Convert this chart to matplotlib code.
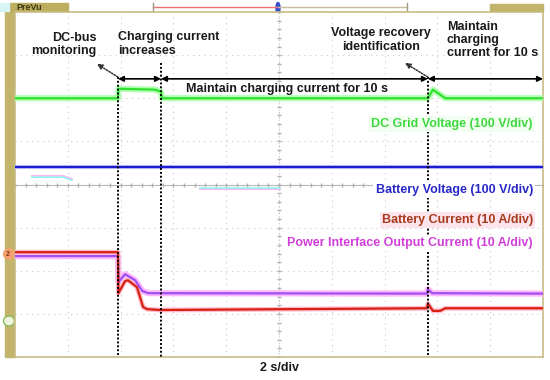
import matplotlib.pyplot as plt
from matplotlib.patches import Rectangle, Ellipse

# time in s (2 s/div, 10 div), levels in screen divisions (8 div)
green_t = [0, 3.90, 3.92, 5.30, 5.53, 5.56, 15.64, 15.83, 16.30, 20]
green_v = [2.0, 2.0, 2.22, 2.20, 2.15, 2.0, 2.0, 2.20, 2.0, 2.0]

blue_t = [0, 20]
blue_v = [0.41, 0.41]

red_t = [0, 3.90, 3.92, 3.98, 4.17, 4.28, 4.62, 4.85, 5.00, 5.49, 15.60, 15.64, 15.83, 16.10, 16.30, 20]
red_v = [-1.57, -1.57, -2.52, -2.45, -2.24, -2.22, -2.38, -2.84, -2.89, -2.91, -2.87, -2.76, -2.93, -2.93, -2.87, -2.87]

mag_t = [0, 3.90, 3.92, 4.17, 4.55, 4.82, 5.05, 15.60, 15.64, 15.80, 20]
mag_v = [-1.66, -1.66, -2.26, -2.08, -2.22, -2.47, -2.52, -2.53, -2.43, -2.52, -2.53]

# faint ghost traces left on the screen
ghost1_t = [0.64, 1.82, 2.16]
ghost1_v = [0.17, 0.17, 0.10]
ghost2_t = [7.0, 10.04]
ghost2_v = [-0.07, -0.07]

markers_t = [3.90, 5.53, 15.64]   # event lines

fig = plt.figure(figsize=(5.5, 3.8), dpi=100)
plt.rcParams['font.family'] = ['Liberation Sans', 'DejaVu Sans']

# background layer in pixel coords
bg = fig.add_axes([0, 0, 1, 1])
bg.set_xlim(0, 550)
bg.set_ylim(380, 0)
bg.axis('off')
olive = '#c2b46a'
bg.add_patch(Rectangle((5, 12), 10, 345, color=olive))
bg.add_patch(Rectangle((10, 3), 58, 8.5, color='#bcae5e'))
bg.text(16, 7.5, 'PreVu', fontsize=6.5, fontweight='bold', color='#3b3a12', va='center')
bg.add_patch(Rectangle((0, 3), 9, 8, color='#d8f4f4'))
bg.plot([153, 278], [7, 7], color='#f07070', lw=1)
bg.plot([278, 407], [7, 7], color='#c8bca0', lw=1)
bg.plot([153, 153], [3, 12], color='#a09880', lw=1)
bg.plot([407, 407], [3, 12], color='#a09880', lw=1)
bg.add_patch(Ellipse((278, 8), 4, 11, color='#3050d0'))
bg.add_patch(Rectangle((490, 4), 53, 8, color=olive))
bg.add_patch(Ellipse((9, 254), 11, 10, color='#f4a070'))
bg.text(8, 254, '2', fontsize=5, fontweight='bold', color='#803010', ha='center', va='center')
bg.add_patch(Ellipse((9, 321), 11, 10, facecolor='#eef4dc', edgecolor='#8cbc5c', lw=1))

ax = fig.add_axes([15 / 550, 1 - 357 / 380, 528 / 550, 345 / 380])
ax.set_xlim(0, 20)
ax.set_ylim(-4, 4)
ax.set_xticks([])
ax.set_yticks([])
for s in ax.spines.values():
    s.set_color('#c8bc84')
    s.set_linewidth(1.2)

# graticule
for gx in range(2, 20, 2):
    ax.axvline(gx, color='#c8c8c8', lw=0.8, ls=(0, (1, 4)), zorder=1)
for gy in range(-3, 4):
    ax.axhline(gy, color='#c8c8c8', lw=0.8, ls=(0, (1, 4)), zorder=1)
ax.axhline(0, color='#b8b8b8', lw=0.8, zorder=1)
ax.axvline(10, color='#c8c8c8', lw=0.8, ls=(0, (1, 2)), zorder=1)
ticks_x = [i * 0.4 for i in range(51)]
ticks_y = [-4 + i * 0.2 for i in range(41)]
ax.plot(ticks_x, [0] * len(ticks_x), ls='none', marker='|', ms=3, color='#b0b0b0', zorder=1)
ax.plot([10] * len(ticks_y), ticks_y, ls='none', marker='_', ms=3, color='#b0b0b0', zorder=1)

# ghost traces
ax.plot(ghost1_t, [v + 0.03 for v in ghost1_v], color='#ffb0f0', lw=1.2, zorder=2)
ax.plot(ghost1_t, ghost1_v, color='#90f4f4', lw=1.2, zorder=2)
ax.plot(ghost2_t, [v - 0.03 for v in ghost2_v], color='#ffa0f0', lw=1.2, zorder=2)
ax.plot(ghost2_t, ghost2_v, color='#90f4f4', lw=1.2, zorder=2)

# traces with phosphor glow
traces = [
    (green_t, green_v, '#30e030', '#b4ffb4', 4.5),
    (blue_t, blue_v, '#1c1cd0', '#c4c4ff', 3),
    (mag_t, mag_v, '#a050f0', '#ffb8ff', 4.5),
    (red_t, red_v, '#d82010', '#ffbccc', 3.5),
]
for t, v, c, glow, gw in traces:
    ax.plot(t, v, color=glow, lw=gw, solid_capstyle='butt', zorder=3)
    ax.plot(t, v, color=c, lw=1.6, zorder=4)

# event lines and arrows
tops = [2.49, 2.82, 2.49]
for x, top in zip(markers_t, tops):
    ax.plot([x, x], [top, -4], color='black', lw=1.4, ls=(0, (1, 1)), zorder=5)

arrow_y = 2.45
spans = [(3.90, 5.53), (5.53, 15.64), (15.64, 20.0)]
for a, b in spans:
    ax.annotate('', xy=(b, arrow_y), xytext=(a, arrow_y),
                arrowprops=dict(arrowstyle='<|-|>', color='black', lw=1.2,
                                mutation_scale=8, shrinkA=0, shrinkB=0), zorder=6)

for (x0, y0), (x1, y1) in [((3.90, 2.49), (3.10, 2.80)), ((15.64, 2.49), (14.77, 2.82))]:
    ax.annotate('', xy=(x1, y1), xytext=(x0, y0),
                arrowprops=dict(arrowstyle='-|>', color='#333333', lw=1.1, ls=(0, (1, 1)),
                                mutation_scale=8, shrinkA=0, shrinkB=0), zorder=6)

bold = dict(fontweight='bold', fontsize=9, color='#1a1a1a', zorder=7)
ax.text(3.10, 3.24, 'DC-bus\nmonitoring', ha='right', va='center', multialignment='right',
        linespacing=1.15, **bold)
ax.text(3.90, 3.26, 'Charging current\nincreases', ha='left', va='center', linespacing=1.15, **bold)
ax.text(6.48, 2.22, 'Maintain charging current for 10 s', ha='left', va='center', **bold)
ax.text(13.86, 3.35, 'Voltage recovery\nidentification', ha='center', va='center',
        multialignment='center', linespacing=1.15, **bold)
ax.text(16.36, 3.35, 'Maintain\ncharging\ncurrent for 10 s', ha='left', va='center',
        linespacing=1.15, **bold)

labels = [
    (1.40, 'DC Grid Voltage (100 V/div)', '#40d840', '#f0fff0'),
    (-0.13, 'Battery Voltage (100 V/div)', '#2828c8', '#ffffff'),
    (-0.82, 'Battery Current (10 A/div)', '#a83a1c', '#fde4ec'),
    (-1.36, 'Power Interface Output Current (10 A/div)', '#d040d8', '#ffffff'),
]
for y, txt, c, bgc in labels:
    ax.text(19.62, y, txt, ha='right', va='center', fontsize=9, fontweight='bold', color=c,
            bbox=dict(facecolor=bgc, edgecolor='none', pad=1.5), zorder=7)

fig.text(279 / 550, 1 - 368 / 380, '2 s/div', ha='center', va='center', fontsize=9,
         fontweight='bold', color='#1a1a1a')

fig.savefig('out.png', dpi=100, facecolor='white')
